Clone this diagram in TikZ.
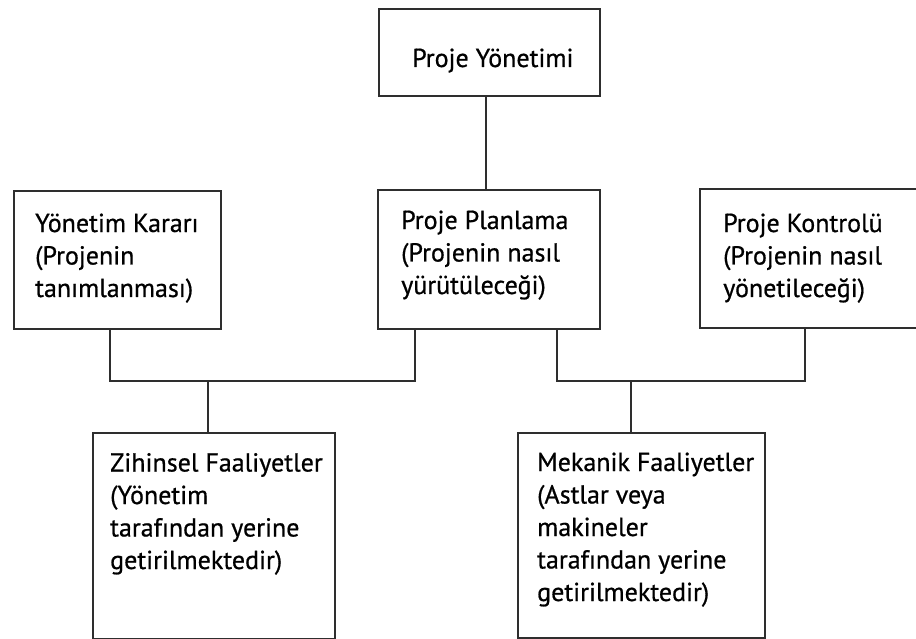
\documentclass[tikz,border=0pt]{standalone}
\usepackage{fontspec}
\setmainfont{PT Sans}
\newfontfamily\lblfont[FakeBold=0.7]{PT Sans}
\begin{document}
\begin{tikzpicture}[x=1pt,y=-1pt,
  box/.style={draw=black!82, line width=1.9pt, anchor=north west, inner sep=0pt},
  link/.style={draw=black!82, line width=1.9pt},
  txt/.style={anchor=base west, inner sep=0pt, align=left, text=black,
    font=\lblfont\fontsize{26}{32.5}\selectfont}]
\useasboundingbox (0,0) rectangle (916,639);
\fill[white] (0,0) rectangle (916,639);

% boxes
\node[box, minimum width=221pt, minimum height=87pt]  (pm) at (378,8) {};
\node[box, minimum width=207pt, minimum height=138pt] (yk) at (13,190) {};
\node[box, minimum width=222pt, minimum height=139pt] (pp) at (377,189) {};
\node[box, minimum width=230pt, minimum height=139pt] (pk) at (699,188) {};
\node[box, minimum width=242pt, minimum height=206pt] (zf) at (92,432) {};
\node[box, minimum width=247pt, minimum height=205pt] (mf) at (517,432) {};

% labels (positioned by the baseline of their last line)
\node[txt] (tpm) at (412,67)  {Proje Yönetimi};
\node[txt] (tyk) at (35,297)  {Yönetim Kararı\\(Projenin\\tanımlanması)};
\node[txt] (tpp) at (401,294) {Proje Planlama\\(Projenin nasıl\\yürütüleceği)};
\node[txt] (tpk) at (723,297) {Proje Kontrolü\\(Projenin nasıl\\yönetileceği)};
\node[txt] (tzf) at (110,569) {Zihinsel Faaliyetler\\(Yönetim\\tarafından yerine\\getirilmektedir)};
\node[txt] (tmf) at (537,601) {Mekanik Faaliyetler\\(Astlar veya\\makineler\\tarafından yerine\\getirilmektedir)};

% bus lines
\coordinate (l1) at (110,381);
\coordinate (l2) at (415,381);
\coordinate (l3) at (208,381);
\coordinate (r1) at (557,381);
\coordinate (r2) at (805,381);
\coordinate (r3) at (631,381);

% connectors
\draw[link] (pm.south -| 486,0) -- (pp.north -| 486,0);
\draw[link] (yk.south -| l1) -- (l1) -- (l2) -- (pp.south -| l2);
\draw[link] (l3) -- (zf.north -| l3);
\draw[link] (pp.south -| r1) -- (r1) -- (r2) -- (pk.south -| r2);
\draw[link] (r3) -- (mf.north -| r3);
\end{tikzpicture}
\end{document}
